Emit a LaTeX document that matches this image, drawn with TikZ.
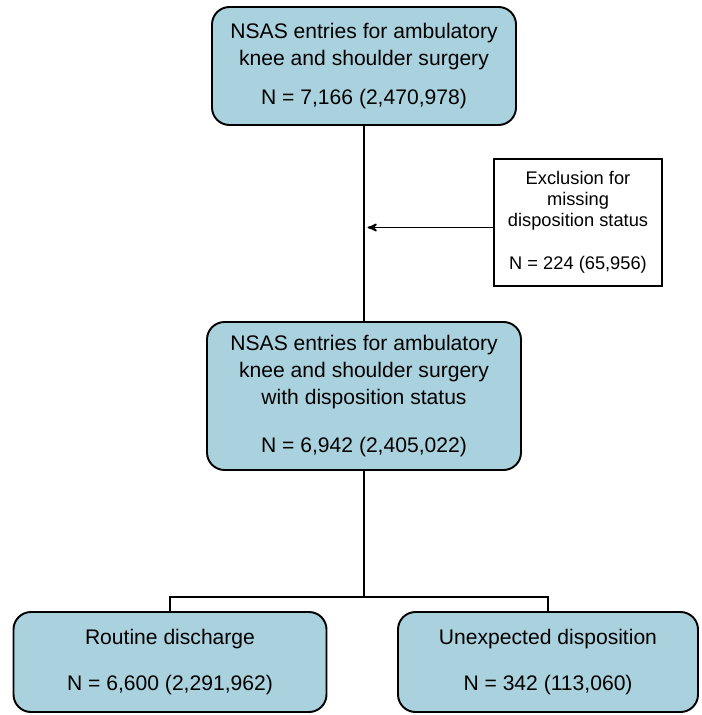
\documentclass[tikz,border=0pt]{standalone}
\usepackage{fontspec}
\setmainfont{Liberation Sans}
\usetikzlibrary{positioning, arrows}
\definecolor{boxblue}{RGB}{170,210,222}

\begin{document}
\begin{tikzpicture}[>=stealth',
    flowbox/.style={draw, line width=1.1pt, rounded corners=0.35cm, fill=boxblue, align=center, inner sep=0pt, font=\fontsize{12}{15.4}\selectfont},
    exclbox/.style={draw, line width=1pt, fill=white, align=center, inner sep=0pt, font=\fontsize{10.4}{12}\selectfont},
    link/.style={line width=1.6pt}]
                        \useasboundingbox (0,0) rectangle (14.04,-14.3);
                        % boxes
                        \node[flowbox, minimum width=6.08cm, minimum height=2.36cm] (all)     at (7.28,-1.32)   {NSAS entries for ambulatory\\knee and shoulder surgery\\[0.22cm]N = 7,166 (2,470,978)};
                        \node[exclbox, minimum width=3.36cm, minimum height=2.54cm] (excl)    at (11.56,-4.45)  {Exclusion for\\missing\\disposition status\\[0.44cm]N = 224 (65,956)};
                        \node[flowbox, minimum width=6.28cm, minimum height=2.96cm] (disp)    at (7.28,-7.92)   {NSAS entries for ambulatory\\knee and shoulder surgery\\with disposition status\\[0.4cm]N = 6,942 (2,405,022)};
                        \node[flowbox, minimum width=6.26cm, minimum height=2.0cm]  (routine) at (3.40,-13.24)  {Routine discharge\\[0.38cm]N = 6,600 (2,291,962)};
                        \node[flowbox, minimum width=6.0cm,  minimum height=2.0cm]  (unexp)   at (10.96,-13.24) {Unexpected disposition\\[0.38cm]N = 342 (113,060)};
                        \coordinate (split) at (7.28,-11.94);
                        % connectors
                        \draw[link] (all.south) -- (disp.north);
                        \draw[->, line width=0.9pt, shorten >=2pt] ([yshift=-0.1cm]excl.west) -- ([yshift=-0.1cm]excl.west -| all.south);
                        \draw[link] (disp.south) -- (split);
                        \draw[link] (routine.north) |- (split) -| (unexp.north);
\end{tikzpicture}
\end{document}
